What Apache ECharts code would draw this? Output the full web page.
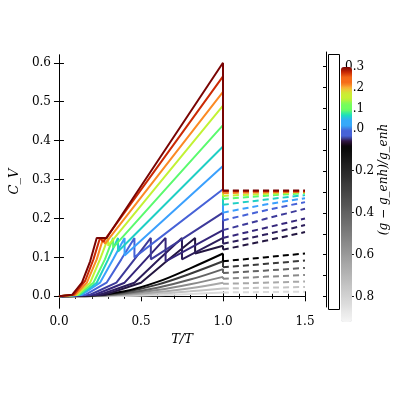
<!DOCTYPE html><html><head><meta charset="utf-8"><script src="https://cdn.jsdelivr.net/npm/echarts@6/dist/echarts.min.js"></script></head><body style="margin:0"><div id="c" style="width:400px;height:400px"></div><script>
const gVals=[0.33,0.30,0.27,0.24,0.21,0.18,0.15,0.12,0.09,0.06,0.03,0.015,0,-0.1,-0.25,-0.4,-0.55,-0.7,-0.85];
const colors=['#7a0403','#cb2a04','#fb8a24','#c2f234','#5afa6e','#1ecfc4','#3ba0fd','#4662d7','#3d3a9a','#35267a','#2c1d5a','#231640','#000000','#3a3a3a','#636363','#8a8a8a','#a8a8a8','#c4c4c4','#dcdcdc'];
const solid=[
[[0,0],[0.08,0.004],[0.14,0.035],[0.19,0.09],[0.23,0.15],[0.29,0.15],[1,0.60]],
[[0,0],[0.09,0.004],[0.16,0.04],[0.21,0.095],[0.25,0.15],[0.27,0.14],[1,0.565]],
[[0,0],[0.1,0.004],[0.17,0.035],[0.23,0.095],[0.27,0.15],[0.28,0.135],[1,0.525]],
[[0,0],[0.11,0.004],[0.19,0.035],[0.25,0.095],[0.30,0.15],[0.30,0.13],[1,0.49]],
[[0,0],[0.12,0.004],[0.21,0.035],[0.28,0.095],[0.33,0.15],[0.33,0.125],[1,0.44]],
[[0,0],[0.13,0.004],[0.23,0.035],[0.30,0.095],[0.36,0.15],[0.36,0.115],[1,0.385]],
[[0,0],[0.14,0.004],[0.25,0.035],[0.33,0.095],[0.40,0.15],[0.40,0.105],[1,0.335]],
[[0,0],[0.16,0.004],[0.29,0.035],[0.38,0.095],[0.46,0.15],[0.46,0.10],[1,0.275]],
[[0,0],[0.19,0.004],[0.35,0.035],[0.46,0.095],[0.56,0.15],[0.56,0.095],[1,0.215]],
[[0,0],[0.22,0.004],[0.40,0.035],[0.53,0.095],[0.65,0.15],[0.65,0.09],[1,0.17]],
[[0,0],[0.25,0.004],[0.46,0.035],[0.61,0.095],[0.75,0.15],[0.75,0.095],[1,0.15]],
[[0,0],[0.28,0.004],[0.50,0.035],[0.67,0.095],[0.83,0.15],[0.83,0.11],[1,0.13]],
[[0,0],[0.2,0.002],[0.4,0.013],[0.6,0.037],[0.8,0.072],[1,0.11]],
[[0,0],[0.2,0.002],[0.4,0.011],[0.6,0.03],[0.8,0.058],[1,0.09]],
[[0,0],[0.2,0.001],[0.4,0.008],[0.6,0.022],[0.8,0.043],[1,0.07]],
[[0,0],[0.2,0.001],[0.4,0.006],[0.6,0.016],[0.8,0.031],[1,0.05]],
[[0,0],[0.2,0.001],[0.4,0.004],[0.6,0.011],[0.8,0.021],[1,0.035]],
[[0,0],[0.4,0.003],[0.6,0.007],[0.8,0.013],[1,0.02]],
[[0,0],[0.4,0.001],[0.6,0.003],[0.8,0.006],[1,0.01]]];
const dashed=[
[[1,0.272],[1.25,0.272],[1.5,0.272]],
[[1,0.27],[1.25,0.27],[1.5,0.27]],
[[1,0.265],[1.25,0.267],[1.5,0.268]],
[[1,0.258],[1.25,0.263],[1.5,0.267]],
[[1,0.25],[1.25,0.258],[1.5,0.265]],
[[1,0.235],[1.25,0.248],[1.5,0.26]],
[[1,0.215],[1.25,0.235],[1.5,0.252]],
[[1,0.195],[1.25,0.22],[1.5,0.242]],
[[1,0.17],[1.25,0.198],[1.5,0.225]],
[[1,0.15],[1.25,0.175],[1.5,0.2]],
[[1,0.135],[1.25,0.158],[1.5,0.183]],
[[1,0.12],[1.25,0.142],[1.5,0.165]],
[[1,0.09],[1.25,0.1],[1.5,0.11]],
[[1,0.075],[1.25,0.083],[1.5,0.092]],
[[1,0.06],[1.25,0.066],[1.5,0.073]],
[[1,0.045],[1.25,0.05],[1.5,0.055]],
[[1,0.032],[1.25,0.035],[1.5,0.038]],
[[1,0.02],[1.25,0.022],[1.5,0.024]],
[[1,0.01],[1.25,0.011],[1.5,0.012]]];
const xTicks=[0,0.5,1,1.5], yTicks=[0,0.1,0.2,0.3,0.4,0.5,0.6], cbTicks=[-0.8,-0.6,-0.4,-0.2,0,0.1,0.2,0.3];
const F='DejaVu Serif';
function cmap(v){ if(v<=0){const t=(v+0.85)/0.85;const c=Math.round(245*(1-t));return 'rgb('+c+','+c+','+c+')';}
 const stops=['#30123b','#4662d7','#36aaf9','#1ae4b6','#72fe5e','#c8ef34','#faba39','#f66b19','#ca2a04','#7a0403'];return stops[Math.min(9,Math.round(v/0.37*9))];}
const cb=[];for(let v=-0.85;v<=0.3701;v+=0.025)cb.push(cmap(v));
const series=[];
solid.forEach((d,i)=>{series.push({type:'line',data:d,showSymbol:false,smooth:i>=12?0.4:false,lineStyle:{width:2,color:colors[i]},z:30-i});
 series.push({type:'line',data:[[1,d[d.length-1][1]],dashed[i][0]],showSymbol:false,lineStyle:{width:2,color:colors[i]},z:30-i});
 series.push({type:'line',data:dashed[i],showSymbol:false,smooth:true,lineStyle:{width:2,type:[6,4],color:colors[i]},z:30-i});});
const ax={axisLine:{lineStyle:{color:'#000'}},axisTick:{inside:true,length:5,lineStyle:{color:'#000'}},minorTick:{show:true,length:2.5,splitNumber:5,lineStyle:{color:'#000'}},splitLine:{show:false}};
const c=echarts.init(document.getElementById('c'));
c.setOption({animation:false,
grid:[{left:44,right:95,top:55,bottom:92},{left:326,width:11,top:52,bottom:93}],
xAxis:[{...ax,type:'value',min:0,max:1.5,interval:0.5,axisLabel:{fontFamily:F,fontSize:12,color:'#000',formatter:v=>v.toFixed(1)},name:'T/T',nameLocation:'middle',nameGap:24,nameTextStyle:{fontFamily:F,fontSize:13,fontStyle:'italic',color:'#000'}},
 {...ax,type:'value',position:'top',min:0,max:1.5,interval:0.5,axisLabel:{show:false}},
 {type:'value',gridIndex:1,show:false,min:0,max:1}],
yAxis:[{...ax,type:'value',min:-0.03,max:0.62,axisTick:{...ax.axisTick,customValues:yTicks},axisLabel:{customValues:yTicks,fontFamily:F,fontSize:12,color:'#000',formatter:v=>v.toFixed(1)},minorTick:{show:false},name:'C_V',nameLocation:'middle',nameGap:28,nameTextStyle:{fontFamily:F,fontSize:13,fontStyle:'italic',color:'#000'}},
 {...ax,type:'value',position:'right',min:-0.03,max:0.62,axisTick:{...ax.axisTick,customValues:yTicks},minorTick:{show:false},axisLabel:{show:false}},
 {type:'value',gridIndex:1,position:'right',min:-0.85,max:0.37,axisLine:{show:true,lineStyle:{color:'#000'}},axisTick:{inside:true,length:3,customValues:[-0.8,-0.7,-0.6,-0.5,-0.4,-0.3,-0.2,-0.1,0,0.1,0.2,0.3]},axisLabel:{customValues:cbTicks,fontFamily:F,fontSize:12,color:'#000',formatter:v=>v<0?'−'+(-v).toFixed(1):v.toFixed(1)},splitLine:{show:false},name:'(g − g_enh)/g_enh',nameLocation:'middle',nameGap:38,nameRotate:90,nameTextStyle:{fontFamily:F,fontSize:12,fontStyle:'italic',color:'#000'}}],
visualMap:{type:'continuous',min:-0.85,max:0.37,seriesIndex:[],left:326,top:52,itemWidth:11,itemHeight:255,calculable:false,text:['',''],showLabel:false,inRange:{color:cb}},
graphic:[{type:'rect',left:326,top:52,shape:{width:11,height:255},style:{fill:'none',stroke:'#000',lineWidth:1},z:100}],
series:series});
</script></body></html>
